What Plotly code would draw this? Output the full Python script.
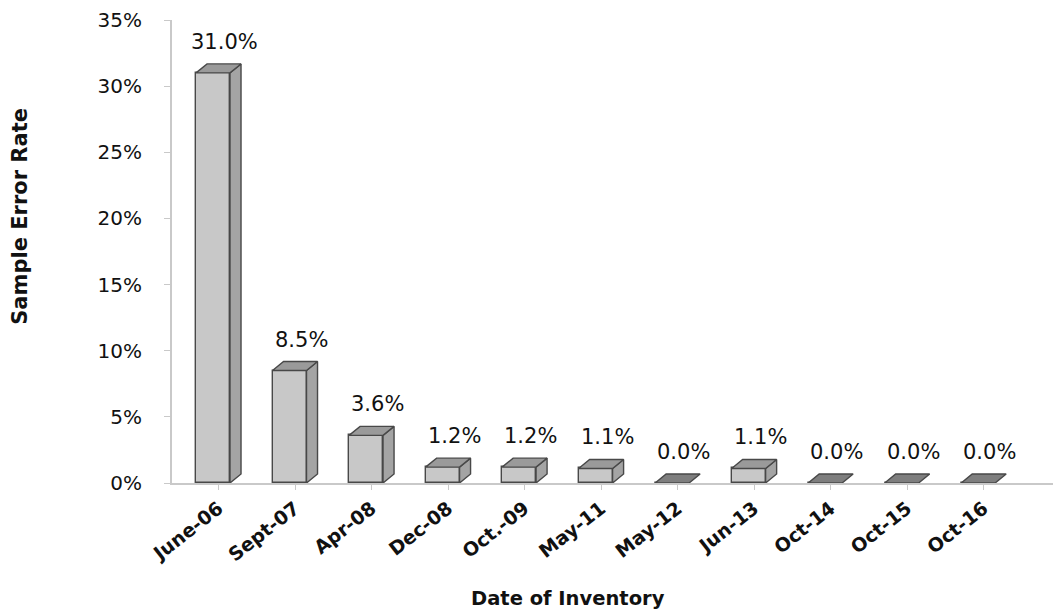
import numpy as np
import plotly.graph_objects as go

# Inventory dates and sample error rates (%)
dates = ["June-06", "Sept-07", "Apr-08", "Dec-08", "Oct.-09", "May-11",
         "May-12", "Jun-13", "Oct-14", "Oct-15", "Oct-16"]
error_rate = [31.0, 8.5, 3.6, 1.2, 1.2, 1.1, 0.0, 1.1, 0.0, 0.0, 0.0]
y_ticks = [0, 5, 10, 15, 20, 25, 30, 35]
y_tick_labels = [f"{t}%" for t in y_ticks]

FONT = "DejaVu Sans"
pos = np.arange(len(dates), dtype=float)

# pseudo-3D geometry (axis units)
front_w = 0.444      # width of the front face
depth_x = 0.144      # horizontal depth offset
depth_y = 0.68       # vertical depth offset (in % units)
x0 = pos - front_w / 2 - depth_x / 2
x1 = x0 + front_w

FRONT = "#c8c8c8"
SIDE = "#a4a4a4"
TOP = "#9a9a9a"
TOP_FLAT = "#7e7e7e"
EDGE = "#484848"

fig = go.Figure()

# front faces
fig.add_trace(go.Bar(
    x=(x0 + x1) / 2, y=error_rate, width=front_w,
    marker=dict(color=FRONT, line=dict(color=EDGE, width=1.4)),
    hoverinfo="skip", showlegend=False,
))


def polys(pts_list):
    xs, ys = [], []
    for pts in pts_list:
        for px, py in pts:
            xs.append(px)
            ys.append(py)
        xs.append(pts[0][0])
        ys.append(pts[0][1])
        xs.append(None)
        ys.append(None)
    return xs, ys


side_faces, top_faces, flat_tops = [], [], []
for a, b, v in zip(x0, x1, error_rate):
    top = [(a, v), (a + depth_x, v + depth_y), (b + depth_x, v + depth_y), (b, v)]
    if v > 0:
        side_faces.append([(b, 0), (b + depth_x, depth_y), (b + depth_x, v + depth_y), (b, v)])
        top_faces.append(top)
    else:
        flat_tops.append(top)

for faces, color in ((side_faces, SIDE), (top_faces, TOP), (flat_tops, TOP_FLAT)):
    xs, ys = polys(faces)
    fig.add_trace(go.Scatter(
        x=xs, y=ys, mode="lines", fill="toself", fillcolor=color,
        line=dict(color=EDGE, width=1.4), hoverinfo="skip", showlegend=False,
    ))

# value labels
for p, v in zip(pos, error_rate):
    fig.add_annotation(
        x=p + 0.08, y=v, text=f"{v:.1f}%", showarrow=False,
        yanchor="bottom", yshift=17,
        font=dict(family=FONT, size=21, color="#111111"),
    )

# axis titles
fig.add_annotation(
    xref="paper", yref="paper", x=0, y=0.575, xshift=-166,
    text="<b>Sample Error Rate</b>", textangle=-90, showarrow=False,
    font=dict(family=FONT, size=21, color="#111111"),
)
fig.add_annotation(
    xref="paper", yref="paper", x=0.449, y=0, yshift=-129,
    text="<b>Date of Inventory</b>", showarrow=False,
    font=dict(family=FONT, size=19.5, color="#111111"),
)

fig.update_layout(
    width=1053, height=612,
    margin=dict(l=172, r=0, t=20, b=129),
    paper_bgcolor="white", plot_bgcolor="white",
    bargap=0,
    xaxis=dict(
        range=[-0.608, 10.906],
        tickmode="array", tickvals=pos, ticktext=[f"<b>{d}</b>" for d in dates],
        tickangle=-38,
        tickfont=dict(family=FONT, size=19, color="#111111"),
        showgrid=False, zeroline=False,
        showline=True, linecolor="#c9c9c9", linewidth=2,
        ticks="outside", ticklen=5, tickcolor="#c9c9c9",
    ),
    yaxis=dict(
        range=[0, 35],
        tickmode="array", tickvals=y_ticks, ticktext=y_tick_labels,
        tickfont=dict(family=FONT, size=20, color="#111111"),
        showgrid=False, zeroline=False,
        showline=True, linecolor="#c9c9c9", linewidth=2,
        ticks="outside", ticklen=6, tickcolor="#c9c9c9",
        ticklabelstandoff=18,
    ),
)

fig.write_html("out.html")
